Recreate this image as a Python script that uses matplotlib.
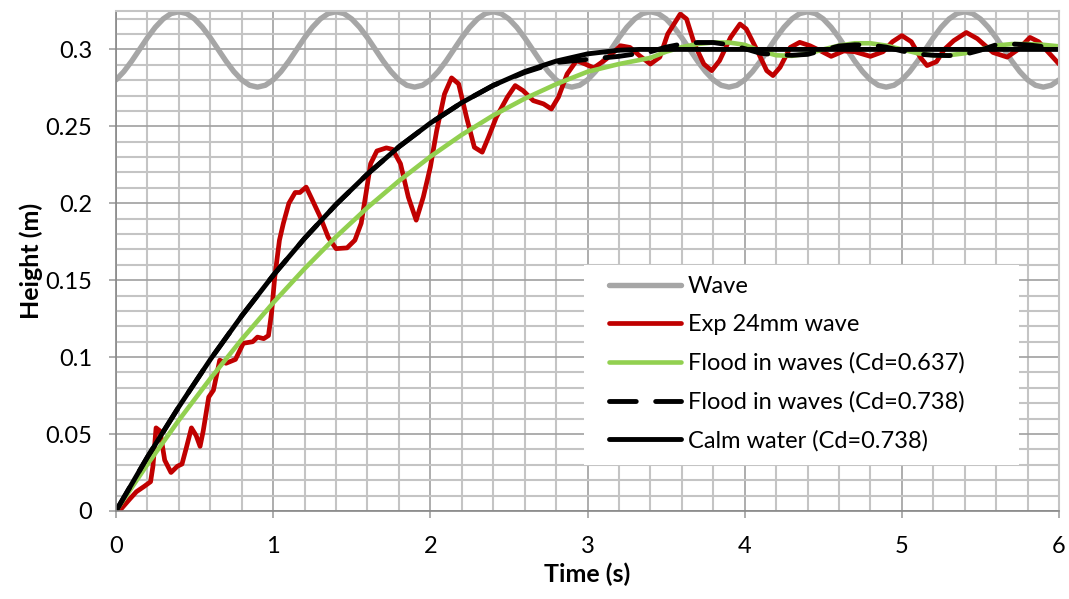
import numpy as np
import matplotlib
matplotlib.use("Agg")
import matplotlib.pyplot as plt
from matplotlib.patches import Rectangle
from matplotlib.ticker import MultipleLocator

plt.rcParams['font.family'] = ['Lato', 'DejaVu Sans']

# Wave (outer water level), sampled every 0.05 s
wave_t = [round(0.05 * i, 2) for i in range(121)]
wave_h = [
    0.2802, 0.2856, 0.2924, 0.3000, 0.3076, 0.3144, 0.3198, 0.3233, 0.3245, 0.3233,
    0.3198, 0.3144, 0.3076, 0.3000, 0.2924, 0.2856, 0.2802, 0.2767, 0.2755, 0.2767,
    0.2802, 0.2856, 0.2924, 0.3000, 0.3076, 0.3144, 0.3198, 0.3233, 0.3245, 0.3233,
    0.3198, 0.3144, 0.3076, 0.3000, 0.2924, 0.2856, 0.2802, 0.2767, 0.2755, 0.2767,
    0.2802, 0.2856, 0.2924, 0.3000, 0.3076, 0.3144, 0.3198, 0.3233, 0.3245, 0.3233,
    0.3198, 0.3144, 0.3076, 0.3000, 0.2924, 0.2856, 0.2802, 0.2767, 0.2755, 0.2767,
    0.2802, 0.2856, 0.2924, 0.3000, 0.3076, 0.3144, 0.3198, 0.3233, 0.3245, 0.3233,
    0.3198, 0.3144, 0.3076, 0.3000, 0.2924, 0.2856, 0.2802, 0.2767, 0.2755, 0.2767,
    0.2802, 0.2856, 0.2924, 0.3000, 0.3076, 0.3144, 0.3198, 0.3233, 0.3245, 0.3233,
    0.3198, 0.3144, 0.3076, 0.3000, 0.2924, 0.2856, 0.2802, 0.2767, 0.2755, 0.2767,
    0.2802, 0.2856, 0.2924, 0.3000, 0.3076, 0.3144, 0.3198, 0.3233, 0.3245, 0.3233,
    0.3198, 0.3144, 0.3076, 0.3000, 0.2924, 0.2856, 0.2802, 0.2767, 0.2755, 0.2767,
    0.2802,
]

# Experiment, 24 mm wave
exp_t = [0.00, 0.03, 0.09, 0.13, 0.18, 0.22, 0.235, 0.255, 0.28, 0.31, 0.35, 0.39,
         0.42, 0.45, 0.48, 0.51, 0.535, 0.555, 0.59, 0.62, 0.66, 0.70, 0.76, 0.81,
         0.87, 0.90, 0.94, 0.97, 0.99, 1.01, 1.04, 1.065, 1.10, 1.14, 1.17, 1.21,
         1.245, 1.30, 1.35, 1.40, 1.47, 1.52, 1.56, 1.59, 1.62, 1.66, 1.72, 1.76,
         1.81, 1.86, 1.91, 1.955, 2.00, 2.04, 2.09, 2.135, 2.18, 2.23, 2.28, 2.33,
         2.37, 2.42, 2.49, 2.54, 2.59, 2.655, 2.72, 2.77, 2.815, 2.87, 2.93, 2.985,
         3.04, 3.12, 3.21, 3.27, 3.33, 3.40, 3.46, 3.51, 3.59, 3.63, 3.68, 3.74,
         3.79, 3.84, 3.91, 3.97, 4.01, 4.08, 4.14, 4.18, 4.225, 4.29, 4.35, 4.415,
         4.48, 4.55, 4.63, 4.70, 4.80, 4.88, 4.94, 5.00, 5.06, 5.12, 5.16, 5.22,
         5.27, 5.33, 5.41, 5.48, 5.58, 5.67, 5.74, 5.815, 5.87, 5.96, 6.00]
exp_h = [0.000, 0.001, 0.008, 0.0125, 0.016, 0.019, 0.029, 0.054, 0.052, 0.033, 0.025, 0.029,
         0.0305, 0.042, 0.054, 0.049, 0.042, 0.052, 0.074, 0.0785, 0.098, 0.096, 0.0985, 0.109,
         0.110, 0.113, 0.112, 0.114, 0.129, 0.152, 0.176, 0.187, 0.200, 0.207, 0.207, 0.2105,
         0.203, 0.191, 0.178, 0.1705, 0.171, 0.176, 0.187, 0.206, 0.2257, 0.234, 0.236, 0.235,
         0.2257, 0.204, 0.189, 0.204, 0.2235, 0.247, 0.271, 0.2815, 0.2776, 0.256, 0.2364, 0.2332,
         0.243, 0.256, 0.269, 0.2765, 0.2732, 0.2667, 0.2646, 0.2613, 0.269, 0.284, 0.2927, 0.2905,
         0.288, 0.2938, 0.3024, 0.3013, 0.296, 0.2905, 0.295, 0.310, 0.323, 0.3198, 0.3035, 0.2905,
         0.2862, 0.2927, 0.3078, 0.3165, 0.3133, 0.2992, 0.2862, 0.283, 0.2884, 0.3013, 0.3046, 0.3024,
         0.2992, 0.2955, 0.299, 0.2985, 0.2955, 0.2985, 0.305, 0.309, 0.305, 0.2945, 0.2895, 0.292,
         0.300, 0.3057, 0.311, 0.307, 0.298, 0.295, 0.300, 0.3078, 0.305, 0.295, 0.2905]

# Flood in waves, Cd = 0.637
green_t = [0.0, 0.2, 0.4, 0.6, 0.8, 1.0, 1.2, 1.4, 1.6, 1.8, 2.0, 2.2, 2.4, 2.6, 2.8,
           3.0, 3.2, 3.4, 3.5, 3.6, 3.7, 3.8, 3.9, 4.0, 4.1, 4.2, 4.3, 4.4, 4.5, 4.6,
           4.7, 4.8, 4.9, 5.0, 5.1, 5.2, 5.3, 5.4, 5.5, 5.6, 5.7, 5.8, 5.9, 6.0]
green_h = [0.0, 0.0303, 0.0590, 0.0860, 0.1115, 0.1353, 0.1575, 0.1782, 0.1972, 0.2145,
           0.2303, 0.2445, 0.2571, 0.2680, 0.2774, 0.2855, 0.2905, 0.2945, 0.2985, 0.3015,
           0.3035, 0.3045, 0.3045, 0.3030, 0.2990, 0.2962, 0.2958, 0.2972, 0.3000, 0.3025,
           0.3040, 0.3040, 0.3025, 0.3000, 0.2975, 0.2962, 0.2962, 0.2975, 0.3000, 0.3025,
           0.3035, 0.3035, 0.3030, 0.3020]

# Flood in waves, Cd = 0.738
dash_t = [0.0, 0.2, 0.4, 0.6, 0.8, 1.0, 1.2, 1.4, 1.6, 1.8, 2.0, 2.2, 2.4, 2.6, 2.8,
          3.0, 3.2, 3.4, 3.5, 3.6, 3.7, 3.8, 3.9, 4.0, 4.1, 4.2, 4.3, 4.4, 4.5, 4.6,
          4.7, 4.8, 4.9, 5.0, 5.1, 5.2, 5.3, 5.4, 5.5, 5.6, 5.7, 5.8, 5.9, 6.0]
dash_h = [0.0, 0.0350, 0.0677, 0.0984, 0.1268, 0.1531, 0.1772, 0.1992, 0.2190, 0.2367,
          0.2521, 0.2654, 0.2766, 0.2850, 0.2915, 0.2935, 0.2955, 0.2985, 0.3015, 0.3035,
          0.3045, 0.3045, 0.3030, 0.3005, 0.2975, 0.2965, 0.2962, 0.2968, 0.2995, 0.3022,
          0.3030, 0.3028, 0.3015, 0.2990, 0.2970, 0.2962, 0.2960, 0.2968, 0.2995, 0.3030,
          0.3035, 0.3030, 0.3018, 0.3005]

# Calm water, Cd = 0.738
calm_t = [0.0, 0.2, 0.4, 0.6, 0.8, 1.0, 1.2, 1.4, 1.6, 1.8, 2.0, 2.2, 2.4, 2.6, 2.8,
          3.0, 3.2, 3.33, 6.0]
calm_h = [0.0, 0.0350, 0.0677, 0.0984, 0.1268, 0.1531, 0.1772, 0.1992, 0.2190, 0.2367,
          0.2521, 0.2654, 0.2766, 0.2856, 0.2924, 0.2971, 0.2995, 0.3000, 0.3000]

labels = ['Wave', 'Exp 24mm wave', 'Flood in waves (Cd=0.637)',
          'Flood in waves (Cd=0.738)', 'Calm water (Cd=0.738)']

fig = plt.figure(figsize=(10.69, 5.99), dpi=100)
ax = fig.add_axes([0.1085, 0.147, 0.8822, 0.8347])

ax.plot(wave_t, wave_h, color='#a6a6a6', lw=3.9, label=labels[0], solid_capstyle='round')
ax.plot(exp_t, exp_h, color='#c00000', lw=3.4, label=labels[1],
        solid_joinstyle='round', solid_capstyle='round')
ax.plot(green_t, green_h, color='#92d050', lw=3.3, label=labels[2], solid_capstyle='round')
ax.plot(dash_t, dash_h, color='black', lw=3.5, dashes=(5.5, 4), dash_capstyle='round',
        label=labels[3])
ax.plot(calm_t, calm_h, color='black', lw=3.5, label=labels[4], solid_capstyle='round')

ax.set_xlim(0, 6)
ax.set_ylim(0, 0.325)
ax.xaxis.set_major_locator(MultipleLocator(1))
ax.xaxis.set_minor_locator(MultipleLocator(0.2))
ax.yaxis.set_major_locator(MultipleLocator(0.05))
ax.yaxis.set_minor_locator(MultipleLocator(0.01))
ax.set_yticks([0, 0.05, 0.1, 0.15, 0.2, 0.25, 0.3])
ax.set_yticklabels(['0', '0.05', '0.1', '0.15', '0.2', '0.25', '0.3'])

ax.set_axisbelow(True)
ax.grid(which='major', color='#a0a0a0', lw=1.2)
ax.grid(which='minor', color='#c4c4c4', lw=1.5)
ax.tick_params(which='major', length=5, width=1.2, color='#a0a0a0', labelsize=17)
ax.tick_params(which='minor', length=0)
ax.tick_params(axis='y', pad=12)
ax.tick_params(axis='x', pad=13)
for side in ['left', 'bottom']:
    ax.spines[side].set_color('#888888')
    ax.spines[side].set_linewidth(1.2)
for side in ['top', 'right']:
    ax.spines[side].set_color('#c4c4c4')
    ax.spines[side].set_linewidth(1.5)

ax.set_xlabel('Time (s)', fontsize=18, fontweight='bold', labelpad=4)
ax.set_ylabel('Height (m)', fontsize=18, fontweight='bold', labelpad=2)

# white backing box behind the legend
ax.add_patch(Rectangle((0.496, 0.092), 0.462, 0.40, transform=ax.transAxes,
                       facecolor='white', edgecolor='none', zorder=1))
ax.legend(loc='upper left', bbox_to_anchor=(0.515, 0.484), frameon=False,
          fontsize=17, handlelength=3.05, handletextpad=0.3, labelspacing=0.73,
          borderpad=0.3, borderaxespad=0)

fig.savefig('out.png', dpi=100)
